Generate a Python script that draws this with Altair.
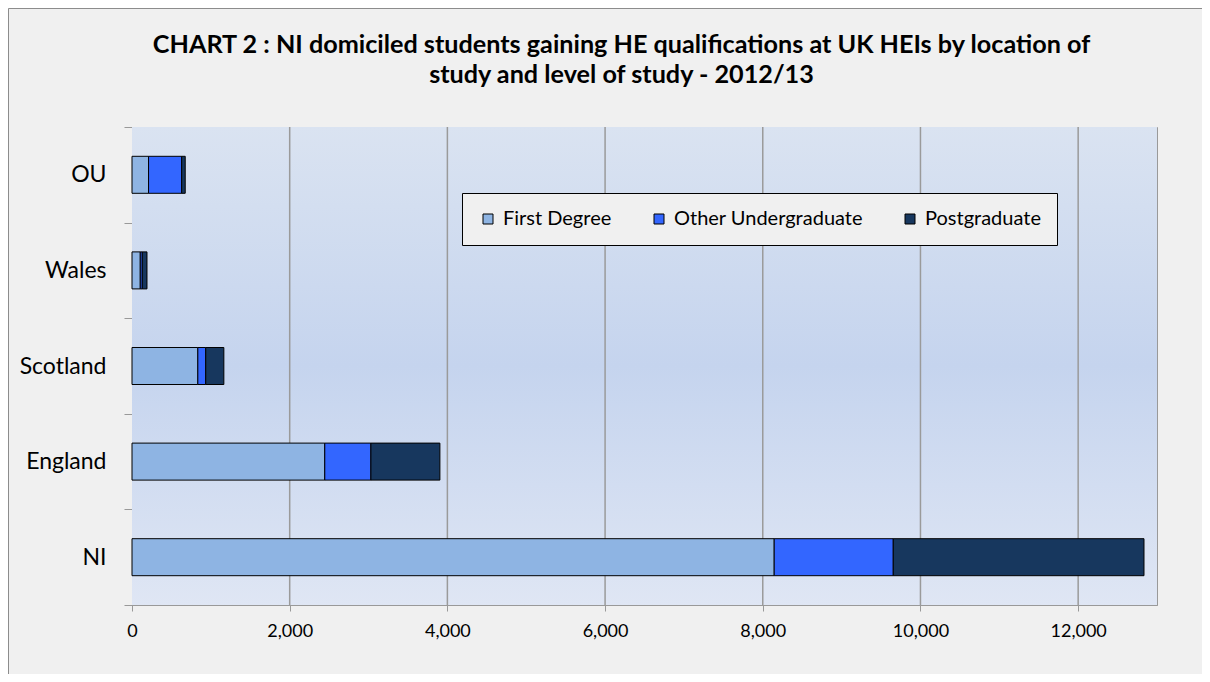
import altair as alt
import pandas as pd

locations = ["OU", "Wales", "Scotland", "England", "NI"]
first_degree = [210, 105, 835, 2445, 8145]
other_ug = [420, 25, 100, 585, 1510]
postgrad = [45, 60, 230, 875, 3180]
series = ["First Degree", "Other Undergraduate", "Postgraduate"]
colors = ["#8EB4E3", "#3366FF", "#17375E"]
x_ticks = [0, 2000, 4000, 6000, 8000, 10000, 12000]
title_lines = [
    "CHART 2 : NI domiciled  students gaining  HE qualifications  at UK HEIs by location  of",
    "study and  level of study  - 2012/13",
]

rows = []
for i, loc in enumerate(locations):
    for k, (name, vals) in enumerate(zip(series, [first_degree, other_ug, postgrad])):
        rows.append({"Location": loc, "Level": name, "Count": vals[i], "ord": k})
df = pd.DataFrame(rows)

W, H = 1025, 478
FONT = "Lato"

grad = alt.LinearGradient(
    gradient="linear",
    stops=[
        alt.GradientStop(color="#DAE3F1", offset=0),
        alt.GradientStop(color="#C5D4EE", offset=0.5),
        alt.GradientStop(color="#DFE6F4", offset=1),
    ],
    x1=0, x2=0, y1=0, y2=1,
)

one = pd.DataFrame({"a": [0]})

frame = alt.Chart(one).mark_rect(fill=None, stroke="#8C8C8C", strokeWidth=1).encode(
    x=alt.value(-123.5), x2=alt.value(W + 200), y=alt.value(-118.5), y2=alt.value(H + 200)
)

bg = alt.Chart(one).mark_rect(color=grad).encode(
    x=alt.value(0), x2=alt.value(W), y=alt.value(0), y2=alt.value(H)
)

xscale = alt.Scale(domain=[0, 13000], nice=False)
xaxis = alt.Axis(
    title=None,
    values=x_ticks,
    format=",.0f",
    labelFont=FONT,
    labelFontSize=18,
    labelColor="black",
    labelFlush=False,
    domainColor="#999999",
    tickColor="#999999",
    tickSize=6,
    labelPadding=11,
    grid=False,
)

grid = alt.Chart(pd.DataFrame({"v": x_ticks[1:]})).mark_rule(color="#9A9A9A", strokeWidth=1.5).encode(
    x=alt.X("v:Q", scale=xscale, axis=xaxis)
)

bars = alt.Chart(df).mark_bar(stroke="black", strokeWidth=1, size=37).encode(
    y=alt.Y(
        "Location:N",
        sort=locations,
        scale=alt.Scale(paddingInner=0, paddingOuter=0),
        axis=alt.Axis(
            title=None,
            labelFont=FONT,
            labelFontSize=23,
            labelColor="black",
            domainColor="#999999",
            tickColor="#999999",
            tickSize=8,
            tickBand="extent",
            labelPadding=18,
            grid=False,
        ),
    ),
    x=alt.X("Count:Q", stack="zero", scale=xscale, axis=xaxis),
    color=alt.Color(
        "Level:N",
        sort=series,
        scale=alt.Scale(domain=series, range=colors),
        legend=alt.Legend(
            title=None,
            orient="none",
            legendX=330,
            legendY=66,
            direction="horizontal",
            fillColor="#F0F0F0",
            strokeColor="black",
            padding=16,
            labelFont=FONT,
            labelFontSize=20,
            labelColor="black",
            labelLimit=400,
            symbolType="square",
            symbolSize=100,
            symbolStrokeColor="black",
            symbolStrokeWidth=1,
            labelOffset=5,
            columnPadding=37,
        ),
    ),
    order=alt.Order("ord:Q"),
)

chart = (
    alt.layer(frame, bg, grid, bars)
    .properties(
        width=W,
        height=H,
        background="#F0F0F0",
        padding={"left": 124, "top": 119, "right": 45, "bottom": 69},
        autosize=alt.AutoSizeParams(type="none"),
        title=alt.TitleParams(
            text=title_lines,
            font=FONT,
            fontSize=25.2,
            fontWeight="bold",
            color="black",
            anchor="middle",
            frame="group",
            dx=-23,
            offset=0,
            dy=80,
            lineHeight=30,
        ),
    )
    .configure_view(stroke="#999999", strokeWidth=1)
)

chart.save("out.html", embed_options={"renderer": "svg", "actions": False})
